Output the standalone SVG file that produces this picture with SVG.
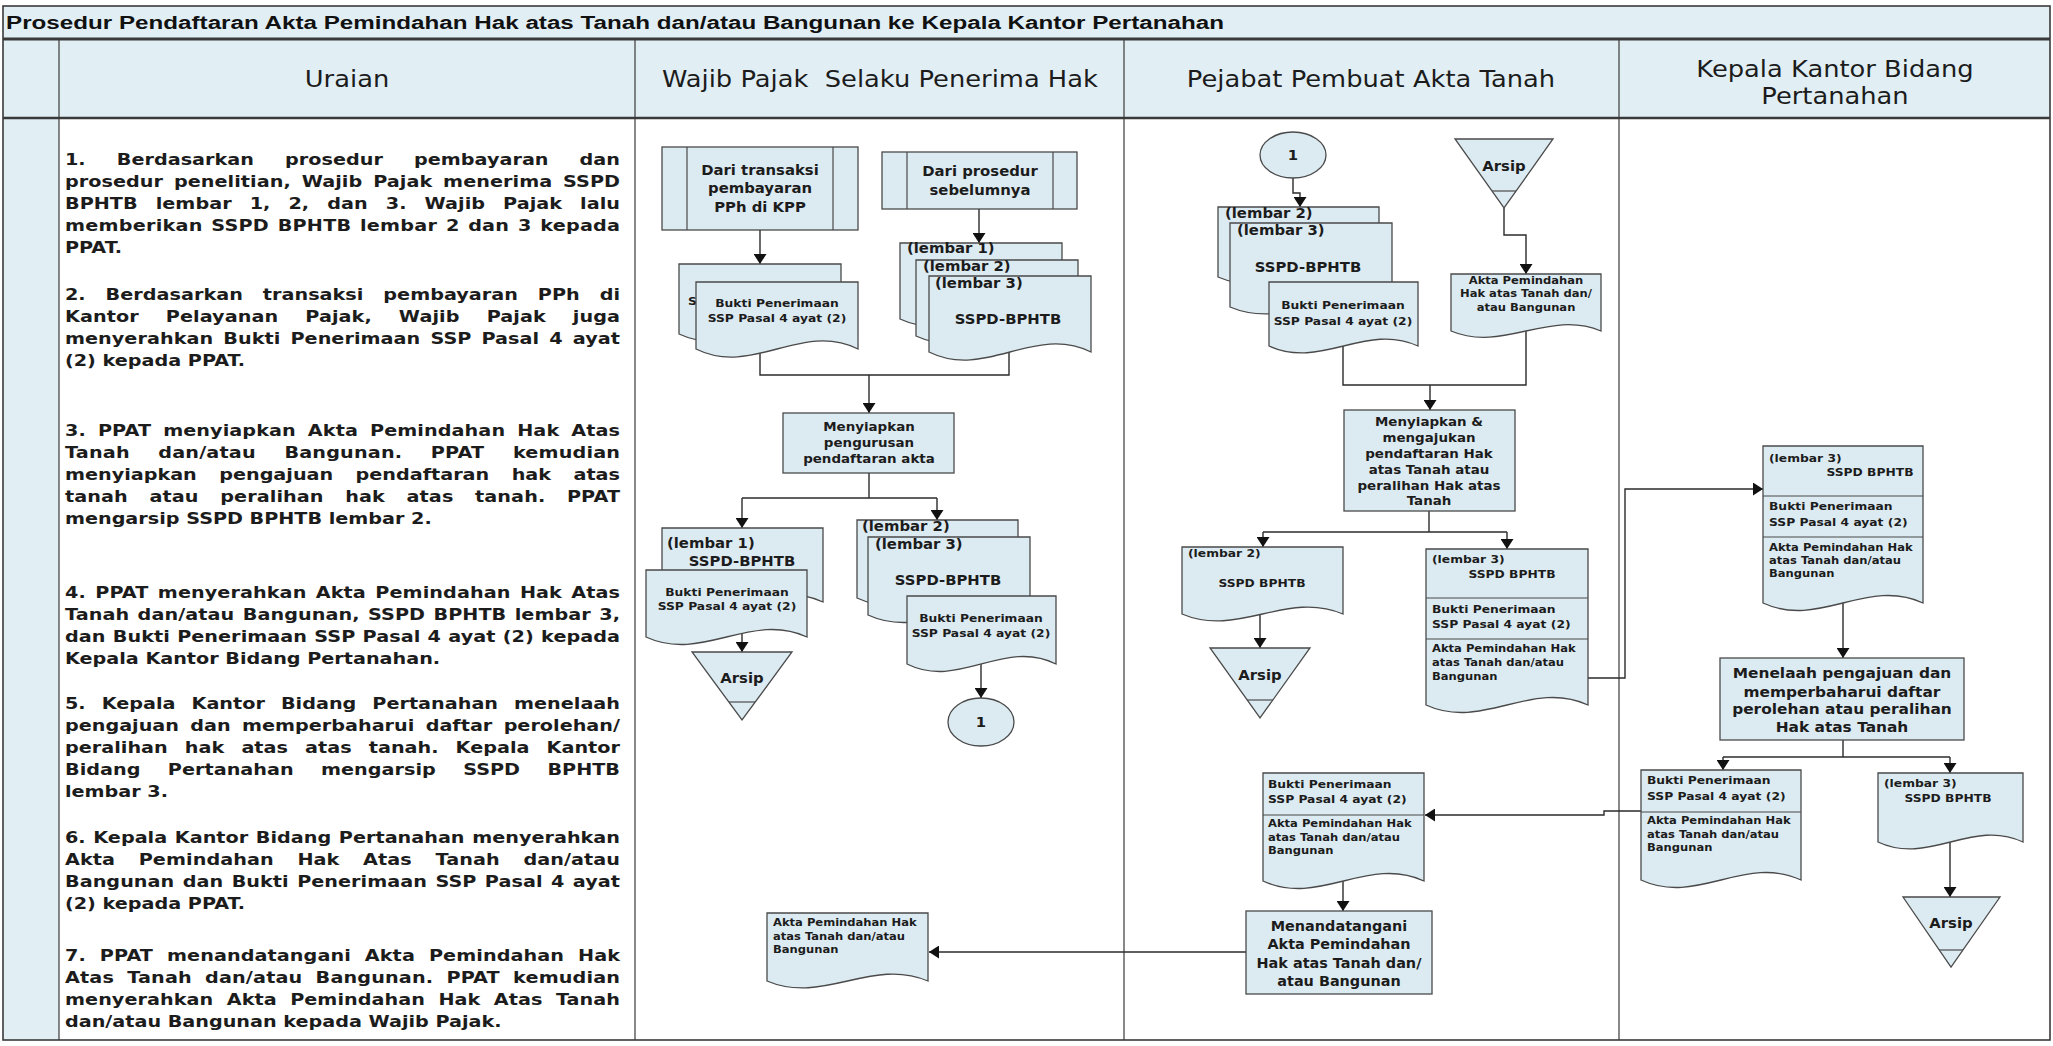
<svg xmlns="http://www.w3.org/2000/svg" width="2053" height="1046" viewBox="0 0 2053 1046">
<defs>
<style>
text{font-family:"DejaVu Sans",Verdana,sans-serif;fill:#1c1c1c;transform-box:fill-box}
.c{text-anchor:middle;transform-origin:center}
.l{text-anchor:start;transform-origin:left center}
.title{font-family:"Liberation Sans",Arial,sans-serif;font-weight:bold;font-size:18px;fill:#111}
.h{font-size:23px;transform:scaleX(1.12)}
.u{font-size:16px;font-weight:bold;transform:scaleX(1.2)}
.n15{font-size:13.5px;font-weight:bold;transform:scaleX(1.1)}
.n14{font-size:14px;font-weight:bold;transform:scaleX(1.1)}
.n14b{font-size:14px;font-weight:bold;transform:scaleX(1.03)}
.n12{font-size:12px;font-weight:bold;transform:scaleX(1.12)}
.n11{font-size:11px;font-weight:bold;transform:scaleX(1.12)}
.n10{font-size:10.5px;font-weight:bold;transform:scaleX(1.1)}
.shape{fill:#dcebf2;stroke:#4a4a4a;stroke-width:1.3}
.sep{fill:none;stroke:#4a4a4a;stroke-width:1.2}
.flow{fill:none;stroke:#2b2b2b;stroke-width:1.4}
.arr{marker-end:url(#ah)}
.grid{stroke:#3a3a3a;fill:none}
.band{fill:#e1eff5}
</style>
<marker id="ah" viewBox="0 0 10 13" refX="10" refY="6.5" markerWidth="10" markerHeight="13" markerUnits="userSpaceOnUse" orient="auto"><path d="M0,0 L10,6.5 L0,13 Z" fill="#111"/></marker>
</defs>

<!-- page and table frame -->
<g id="table">
<rect x="0" y="0" width="2053" height="1046" fill="#ffffff"/>
<rect class="band" x="3" y="6" width="2047" height="112"/>
<rect class="band" x="3" y="118" width="56" height="922"/>
<rect class="grid" x="3" y="6" width="2047" height="1034" stroke-width="1.6"/>
<line class="grid" x1="3" y1="39" x2="2050" y2="39" stroke-width="3"/>
<line class="grid" x1="3" y1="118" x2="2050" y2="118" stroke-width="2.5"/>
<line class="grid" x1="59" y1="39" x2="59" y2="1040" stroke-width="1.2"/>
<line class="grid" x1="635" y1="39" x2="635" y2="1040" stroke-width="1.2"/>
<line class="grid" x1="1124" y1="39" x2="1124" y2="1040" stroke-width="1.2"/>
<line class="grid" x1="1619" y1="39" x2="1619" y2="1040" stroke-width="1.2"/>
<text class="title" x="6" y="29" textLength="1218" lengthAdjust="spacingAndGlyphs">Prosedur Pendaftaran Akta Pemindahan Hak atas Tanah dan/atau Bangunan ke Kepala Kantor Pertanahan</text>
<text class="h c" x="347" y="87">Uraian</text>
<text class="h c" x="880" y="87">Wajib Pajak&#160; Selaku Penerima Hak</text>
<text class="h c" x="1371" y="87">Pejabat Pembuat Akta Tanah</text>
<text class="h c" x="1835" y="77">Kepala Kantor Bidang</text>
<text class="h c" x="1835" y="104">Pertanahan</text>
</g>

<!-- procedure description, justified lines -->
<g id="uraian">
<text class="u l" x="65" y="165" word-spacing="20.3" textLength="462.5" lengthAdjust="spacing">1. Berdasarkan prosedur pembayaran dan</text>
<text class="u l" x="65" y="187" word-spacing="3.46" textLength="462.5" lengthAdjust="spacing">prosedur penelitian, Wajib Pajak menerima SSPD</text>
<text class="u l" x="65" y="209" word-spacing="9.45" textLength="462.5" lengthAdjust="spacing">BPHTB lembar 1, 2, dan 3. Wajib Pajak lalu</text>
<text class="u l" x="65" y="231" word-spacing="1.46" textLength="462.5" lengthAdjust="spacing">memberikan SSPD BPHTB lembar 2 dan 3 kepada</text>
<text class="u l" x="65" y="253">PPAT.</text>
<text class="u l" x="65" y="300" word-spacing="11.04" textLength="462.5" lengthAdjust="spacing">2. Berdasarkan transaksi pembayaran PPh di</text>
<text class="u l" x="65" y="322" word-spacing="16.98" textLength="462.5" lengthAdjust="spacing">Kantor Pelayanan Pajak, Wajib Pajak juga</text>
<text class="u l" x="65" y="344" word-spacing="2.83" textLength="462.5" lengthAdjust="spacing">menyerahkan Bukti Penerimaan SSP Pasal 4 ayat</text>
<text class="u l" x="65" y="366">(2) kepada PPAT.</text>
<text class="u l" x="65" y="436" word-spacing="4.43" textLength="462.5" lengthAdjust="spacing">3. PPAT menyiapkan Akta Pemindahan Hak Atas</text>
<text class="u l" x="65" y="458" word-spacing="18.1" textLength="462.5" lengthAdjust="spacing">Tanah dan/atau Bangunan. PPAT kemudian</text>
<text class="u l" x="65" y="480" word-spacing="13.15" textLength="462.5" lengthAdjust="spacing">menyiapkan pengajuan pendaftaran hak atas</text>
<text class="u l" x="65" y="502" word-spacing="12.4" textLength="462.5" lengthAdjust="spacing">tanah atau peralihan hak atas tanah. PPAT</text>
<text class="u l" x="65" y="524">mengarsip SSPD BPHTB lembar 2.</text>
<text class="u l" x="65" y="598" word-spacing="2.23" textLength="462.5" lengthAdjust="spacing">4. PPAT menyerahkan Akta Pemindahan Hak Atas</text>
<text class="u l" x="65" y="620" word-spacing="1.32" textLength="462.5" lengthAdjust="spacing">Tanah dan/atau Bangunan, SSPD BPHTB lembar 3,</text>
<text class="u l" x="65" y="642" word-spacing="0.44" textLength="462.5" lengthAdjust="spacing">dan Bukti Penerimaan SSP Pasal 4 ayat (2) kepada</text>
<text class="u l" x="65" y="664">Kepala Kantor Bidang Pertanahan.</text>
<text class="u l" x="65" y="709" word-spacing="7.74" textLength="462.5" lengthAdjust="spacing">5. Kepala Kantor Bidang Pertanahan menelaah</text>
<text class="u l" x="65" y="731" word-spacing="3.85" textLength="462.5" lengthAdjust="spacing">pengajuan dan memperbaharui daftar perolehan/</text>
<text class="u l" x="65" y="753" word-spacing="8.67" textLength="462.5" lengthAdjust="spacing">peralihan hak atas atas tanah. Kepala Kantor</text>
<text class="u l" x="65" y="775" word-spacing="17.2" textLength="462.5" lengthAdjust="spacing">Bidang Pertanahan mengarsip SSPD BPHTB</text>
<text class="u l" x="65" y="797">lembar 3.</text>
<text class="u l" x="65" y="843" word-spacing="0.78" textLength="462.5" lengthAdjust="spacing">6. Kepala Kantor Bidang Pertanahan menyerahkan</text>
<text class="u l" x="65" y="865" word-spacing="14.12" textLength="462.5" lengthAdjust="spacing">Akta Pemindahan Hak Atas Tanah dan/atau</text>
<text class="u l" x="65" y="887" word-spacing="1.43" textLength="462.5" lengthAdjust="spacing">Bangunan dan Bukti Penerimaan SSP Pasal 4 ayat</text>
<text class="u l" x="65" y="909">(2) kepada PPAT.</text>
<text class="u l" x="65" y="961" word-spacing="6.08" textLength="462.5" lengthAdjust="spacing">7. PPAT menandatangani Akta Pemindahan Hak</text>
<text class="u l" x="65" y="983" word-spacing="5.3" textLength="462.5" lengthAdjust="spacing">Atas Tanah dan/atau Bangunan. PPAT kemudian</text>
<text class="u l" x="65" y="1005" word-spacing="5.54" textLength="462.5" lengthAdjust="spacing">menyerahkan Akta Pemindahan Hak Atas Tanah</text>
<text class="u l" x="65" y="1027">dan/atau Bangunan kepada Wajib Pajak.</text>
</g>

<!-- connectors (drawn beneath the shapes) -->
<g id="connectors">
<path class="flow arr" d="M760,230 V264"/>
<path class="flow arr" d="M979,209 V243"/>
<path class="flow" d="M760,340 V375 H1009 V345"/>
<path class="flow arr" d="M869,375 V413"/>
<path class="flow" d="M869,473 V498"/>
<path class="flow" d="M742,498 H937"/>
<path class="flow arr" d="M742,498 V528"/>
<path class="flow arr" d="M937,498 V520"/>
<path class="flow arr" d="M742,630 V652"/>
<path class="flow arr" d="M981,656 V698"/>
<path class="flow arr" d="M1246,952 H929"/>
<path class="flow arr" d="M1293,178 V193 H1300 V207"/>
<path class="flow arr" d="M1504,208 V235 H1526 V274"/>
<path class="flow" d="M1343,340 V385 H1526 V325"/>
<path class="flow arr" d="M1430,385 V410"/>
<path class="flow" d="M1429,511 V532"/>
<path class="flow" d="M1263,532 H1507"/>
<path class="flow arr" d="M1263,532 V547"/>
<path class="flow arr" d="M1507,532 V549"/>
<path class="flow arr" d="M1260,610 V648"/>
<path class="flow arr" d="M1588,678 H1625 V489 H1763"/>
<path class="flow arr" d="M1641,811 H1604 V815 H1425"/>
<path class="flow arr" d="M1343,875 V911"/>
<path class="flow arr" d="M1843,598 V658"/>
<path class="flow" d="M1843,740 V757"/>
<path class="flow" d="M1723,757 H1950"/>
<path class="flow arr" d="M1723,757 V770"/>
<path class="flow arr" d="M1950,757 V773"/>
<path class="flow arr" d="M1950,838 V897"/>
</g>

<!-- Wajib Pajak lane -->
<g id="wp-dari-transaksi">
<rect class="shape" x="662" y="147" width="196" height="83"/>
<path class="sep" d="M687,147 V230 M833,147 V230"/>
<text class="n15 c" x="760" y="175">Dari transaksi</text>
<text class="n15 c" x="760" y="193">pembayaran</text>
<text class="n15 c" x="760" y="212">PPh di KPP</text>
</g>
<g id="wp-dari-prosedur">
<rect class="shape" x="882" y="152" width="195" height="57"/>
<path class="sep" d="M907,152 V209 M1053,152 V209"/>
<text class="n15 c" x="980" y="176">Dari prosedur</text>
<text class="n15 c" x="980" y="195">sebelumnya</text>
</g>
<g id="wp-ssp-copy">
<path class="shape" d="M679,264 H841 V334 C784.3,308 735.7,360 679,334 Z"/>
<text class="n11 l" x="688" y="305">S</text>
</g>
<g id="wp-bukti-ssp">
<path class="shape" d="M696,282 H858 V349 C801.3,321 752.7,377 696,349 Z"/>
<text class="n11 c" x="777" y="307">Bukti Penerimaan</text>
<text class="n11 c" x="777" y="322">SSP Pasal 4 ayat (2)</text>
</g>
<g id="wp-sspd-1">
<path class="shape" d="M900,243 H1062 V319 C1005.3,293 956.7,345 900,319 Z"/>
<text class="n15 l" x="907" y="253">(lembar 1)</text>
</g>
<g id="wp-sspd-2">
<path class="shape" d="M916,260 H1078 V336 C1021.3,310 972.7,362 916,336 Z"/>
<text class="n15 l" x="923" y="271">(lembar 2)</text>
</g>
<g id="wp-sspd-3">
<path class="shape" d="M929,276 H1091 V352 C1034.3,324 985.7,380 929,352 Z"/>
<text class="n15 l" x="935" y="288">(lembar 3)</text>
<text class="n15 c" x="1008" y="324">SSPD-BPHTB</text>
</g>
<g id="wp-menyiapkan">
<rect class="shape" x="783" y="413" width="171" height="60"/>
<text class="n12 c" x="869" y="431">Menyiapkan</text>
<text class="n12 c" x="869" y="447">pengurusan</text>
<text class="n12 c" x="869" y="463">pendaftaran akta</text>
</g>
<g id="wp-sspd-lembar1">
<path class="shape" d="M662,528 H823 V602 C766.7,576 718.4,628 662,602 Z"/>
<text class="n15 l" x="667" y="548">(lembar 1)</text>
<text class="n15 c" x="742" y="566">SSPD-BPHTB</text>
</g>
<g id="wp-bukti-arsip">
<path class="shape" d="M646,570 H807 V637 C750.7,611 702.4,663 646,637 Z"/>
<text class="n11 c" x="727" y="596">Bukti Penerimaan</text>
<text class="n11 c" x="727" y="610">SSP Pasal 4 ayat (2)</text>
</g>
<g id="wp-arsip">
<path class="shape" d="M692,652 H792 L742,720 Z"/>
<path class="sep" d="M729,702 H755"/>
<text class="n15 c" x="742" y="683">Arsip</text>
</g>
<g id="wp-sspd-lembar2">
<path class="shape" d="M857,520 H1018 V598 C961.7,572 913.4,624 857,598 Z"/>
<text class="n15 l" x="862" y="531">(lembar 2)</text>
</g>
<g id="wp-sspd-lembar3">
<path class="shape" d="M868,537 H1030 V615 C973.3,589 924.7,641 868,615 Z"/>
<text class="n15 l" x="875" y="549">(lembar 3)</text>
<text class="n15 c" x="948" y="585">SSPD-BPHTB</text>
</g>
<g id="wp-bukti-kirim">
<path class="shape" d="M907,596 H1056 V664 C1003.9,638 959.2,690 907,664 Z"/>
<text class="n11 c" x="981" y="622">Bukti Penerimaan</text>
<text class="n11 c" x="981" y="637">SSP Pasal 4 ayat (2)</text>
</g>
<g id="wp-connector-1">
<ellipse class="shape" cx="981" cy="722" rx="33" ry="24"/>
<text class="n15 c" x="981" y="727">1</text>
</g>
<g id="wp-akta">
<path class="shape" d="M767,913 H928 V981 C871.7,957 823.4,1005 767,981 Z"/>
<text class="n10 l" x="773" y="926">Akta Pemindahan Hak</text>
<text class="n10 l" x="773" y="940">atas Tanah dan/atau</text>
<text class="n10 l" x="773" y="953">Bangunan</text>
</g>

<!-- PPAT lane -->
<g id="ppat-connector-1">
<ellipse class="shape" cx="1293" cy="155" rx="33" ry="23"/>
<text class="n15 c" x="1293" y="160">1</text>
</g>
<g id="ppat-arsip-akta">
<path class="shape" d="M1455,139 H1553 L1504,208 Z"/>
<path class="sep" d="M1492,191 H1516"/>
<text class="n15 c" x="1504" y="171">Arsip</text>
</g>
<g id="ppat-sspd-2">
<path class="shape" d="M1218,207 H1379 V277 C1322.7,253 1274.4,301 1218,277 Z"/>
<text class="n15 l" x="1225" y="218">(lembar 2)</text>
</g>
<g id="ppat-sspd-3">
<path class="shape" d="M1230,223 H1392 V307 C1335.3,283 1286.7,331 1230,307 Z"/>
<text class="n15 l" x="1237" y="235">(lembar 3)</text>
<text class="n15 c" x="1308" y="272">SSPD-BPHTB</text>
</g>
<g id="ppat-bukti">
<path class="shape" d="M1269,282 H1418 V346 C1365.9,322 1321.2,370 1269,346 Z"/>
<text class="n11 c" x="1343" y="309">Bukti Penerimaan</text>
<text class="n11 c" x="1343" y="325">SSP Pasal 4 ayat (2)</text>
</g>
<g id="ppat-akta">
<path class="shape" d="M1451,274 H1601 V331 C1548.5,309 1503.5,353 1451,331 Z"/>
<text class="n10 c" x="1526" y="284">Akta Pemindahan</text>
<text class="n10 c" x="1526" y="297">Hak atas Tanah dan/</text>
<text class="n10 c" x="1526" y="311">atau Bangunan</text>
</g>
<g id="ppat-menyiapkan">
<rect class="shape" x="1344" y="410" width="171" height="101"/>
<text class="n12 c" x="1429" y="426">Menyiapkan &amp;</text>
<text class="n12 c" x="1429" y="442">mengajukan</text>
<text class="n12 c" x="1429" y="458">pendaftaran Hak</text>
<text class="n12 c" x="1429" y="474">atas Tanah atau</text>
<text class="n12 c" x="1429" y="490">peralihan Hak atas</text>
<text class="n12 c" x="1429" y="505">Tanah</text>
</g>
<g id="ppat-sspd-lembar2">
<path class="shape" d="M1182,547 H1343 V614 C1286.7,590 1238.4,638 1182,614 Z"/>
<text class="n11 l" x="1188" y="557">(lembar 2)</text>
<text class="n11 c" x="1262" y="587">SSPD BPHTB</text>
</g>
<g id="ppat-arsip">
<path class="shape" d="M1210,648 H1310 L1260,718 Z"/>
<path class="sep" d="M1247,700 H1273"/>
<text class="n15 c" x="1260" y="680">Arsip</text>
</g>
<g id="ppat-berkas-kirim">
<path class="shape" d="M1426,549 H1588 V705 C1531.3,679 1482.7,731 1426,705 Z"/>
<path class="sep" d="M1426,598 H1588 M1426,639 H1588"/>
<text class="n11 l" x="1432" y="563">(lembar 3)</text>
<text class="n11 c" x="1512" y="578">SSPD BPHTB</text>
<text class="n11 l" x="1432" y="613">Bukti Penerimaan</text>
<text class="n11 l" x="1432" y="628">SSP Pasal 4 ayat (2)</text>
<text class="n10 l" x="1432" y="652">Akta Pemindahan Hak</text>
<text class="n10 l" x="1432" y="666">atas Tanah dan/atau</text>
<text class="n10 l" x="1432" y="680">Bangunan</text>
</g>
<g id="ppat-berkas-kembali">
<path class="shape" d="M1263,773 H1424 V881 C1367.7,855 1319.4,907 1263,881 Z"/>
<path class="sep" d="M1263,815 H1424"/>
<text class="n11 l" x="1268" y="788">Bukti Penerimaan</text>
<text class="n11 l" x="1268" y="803">SSP Pasal 4 ayat (2)</text>
<text class="n10 l" x="1268" y="827">Akta Pemindahan Hak</text>
<text class="n10 l" x="1268" y="841">atas Tanah dan/atau</text>
<text class="n10 l" x="1268" y="854">Bangunan</text>
</g>
<g id="ppat-menandatangani">
<rect class="shape" x="1246" y="911" width="186" height="83"/>
<text class="n14b c" x="1339" y="931">Menandatangani</text>
<text class="n14b c" x="1339" y="949">Akta Pemindahan</text>
<text class="n14b c" x="1339" y="968">Hak atas Tanah dan/</text>
<text class="n14b c" x="1339" y="986">atau Bangunan</text>
</g>

<!-- Kepala Kantor lane -->
<g id="kk-berkas-terima">
<path class="shape" d="M1763,446 H1923 V603 C1867,577 1819,629 1763,603 Z"/>
<path class="sep" d="M1763,496 H1923 M1763,537 H1923"/>
<text class="n11 l" x="1769" y="462">(lembar 3)</text>
<text class="n11 c" x="1870" y="476">SSPD BPHTB</text>
<text class="n11 l" x="1769" y="510">Bukti Penerimaan</text>
<text class="n11 l" x="1769" y="526">SSP Pasal 4 ayat (2)</text>
<text class="n10 l" x="1769" y="551">Akta Pemindahan Hak</text>
<text class="n10 l" x="1769" y="564">atas Tanah dan/atau</text>
<text class="n10 l" x="1769" y="577">Bangunan</text>
</g>
<g id="kk-menelaah">
<rect class="shape" x="1720" y="658" width="244" height="82"/>
<text class="n14 c" x="1842" y="678">Menelaah pengajuan dan</text>
<text class="n14 c" x="1842" y="697">memperbaharui daftar</text>
<text class="n14 c" x="1842" y="714">perolehan atau peralihan</text>
<text class="n14 c" x="1842" y="732">Hak atas Tanah</text>
</g>
<g id="kk-berkas-kembali">
<path class="shape" d="M1641,770 H1801 V880 C1745,854 1697,906 1641,880 Z"/>
<path class="sep" d="M1641,812 H1801"/>
<text class="n11 l" x="1647" y="784">Bukti Penerimaan</text>
<text class="n11 l" x="1647" y="800">SSP Pasal 4 ayat (2)</text>
<text class="n10 l" x="1647" y="824">Akta Pemindahan Hak</text>
<text class="n10 l" x="1647" y="838">atas Tanah dan/atau</text>
<text class="n10 l" x="1647" y="851">Bangunan</text>
</g>
<g id="kk-sspd-lembar3">
<path class="shape" d="M1878,773 H2023 V842 C1972.3,818 1928.8,866 1878,842 Z"/>
<text class="n11 l" x="1884" y="787">(lembar 3)</text>
<text class="n11 c" x="1948" y="802">SSPD BPHTB</text>
</g>
<g id="kk-arsip">
<path class="shape" d="M1903,897 H2000 L1951,967 Z"/>
<path class="sep" d="M1939,950 H1963"/>
<text class="n15 c" x="1951" y="928">Arsip</text>
</g>
</svg>
